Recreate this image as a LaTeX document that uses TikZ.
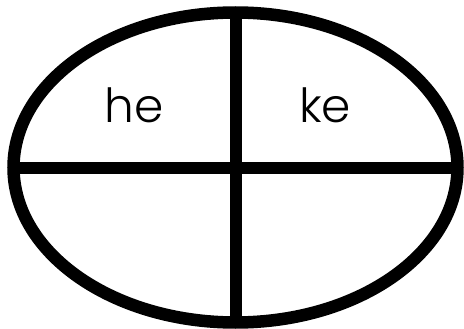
\documentclass[tikz,border=0pt]{standalone}
\usepackage{fontspec}
\setmainfont{Poppins}[UprightFont=* Light]
\usepackage{tikz}
\usetikzlibrary{positioning}

\begin{document}
\begin{tikzpicture}[x=1pt,y=-1pt,line width=12.5pt]
\useasboundingbox (0,0) rectangle (464,329);
% outer ellipse
\coordinate (mid) at (235.5,167.5);
\draw (mid) ellipse [x radius=222, y radius=155];
% cross: vertical and horizontal dividers
\coordinate (top) at (236,12.5);
\coordinate (bot) at (236,322.5);
\coordinate (lft) at (13.5,168);
\coordinate (rgt) at (457.5,168);
\draw (top) -- (bot);
\draw (lft) -- (rgt);
% labels in the upper quarters
\node[anchor=base,font=\fontsize{47}{47}\selectfont,inner sep=0pt] (he) at (134,123) {he};
\node[anchor=base,font=\fontsize{47}{47}\selectfont,inner sep=0pt] (ke) at (325,123) {ke};
\end{tikzpicture}
\end{document}
